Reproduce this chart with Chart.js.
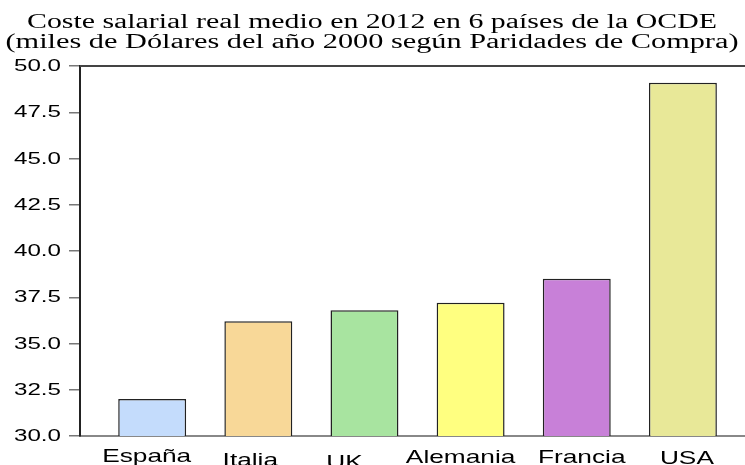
<!DOCTYPE html>
<html>
<head>
<meta charset="utf-8">
<style>
  html, body { margin: 0; padding: 0; background: #fff; }
  canvas { display: block; }
</style>
<script src="https://cdn.jsdelivr.net/npm/chart.js@4/dist/chart.umd.min.js"></script>
</head>
<body>
<canvas id="myChart" width="745" height="465"></canvas>
<script>
// Coste salarial real medio 2012 (miles de dólares del año 2000, PPA)
const paises = ['España', 'Italia', 'UK', 'Alemania', 'Francia', 'USA'];
const coste = [32.0, 36.2, 36.8, 37.2, 38.5, 49.1];
const colores = ['#C4DCFC', '#F8D898', '#A8E4A0', '#FFFF80', '#C880D8', '#E8E898'];
const yTicks = [30.0, 32.5, 35.0, 37.5, 40.0, 42.5, 45.0, 47.5, 50.0];
const titulo = [
    'Coste salarial real medio en 2012 en 6 países de la OCDE',
    '(miles de Dólares del año 2000 según Paridades de Compra)'
];

document.addEventListener('DOMContentLoaded', function () {
    // text is drawn horizontally widened, like the original graph export
    const STRETCH = 1.42;

    function wideText(ctx, text, x, y, align, sx) {
        ctx.save();
        ctx.translate(x, y);
        ctx.scale(sx || STRETCH, 1);
        ctx.textAlign = align;
        ctx.fillText(text, 0, 0);
        ctx.restore();
    }

    // labels under the bars sit at slightly uneven heights
    const labelDx = [-5.5, -8, -20, -10, 5, 4];
    const labelDrop = [25.5, 30, 32, 26.5, 27, 28];
    // title lines are spread to these widths
    const titleWidth = [690, 733];

    const textPlugin = {
        id: 'textPlugin',
        afterDraw(chart) {
            const ctx = chart.ctx;
            const area = chart.chartArea;
            const xs = chart.scales.x;
            const ys = chart.scales.y;

            // top frame line
            ctx.save();
            ctx.strokeStyle = '#444';
            ctx.lineWidth = 2;
            ctx.beginPath();
            ctx.moveTo(area.left, area.top);
            ctx.lineTo(area.right, area.top);
            ctx.stroke();
            ctx.restore();

            ctx.save();
            ctx.fillStyle = '#000';

            // title
            ctx.font = '20px "Liberation Serif", "Times New Roman", serif';
            ctx.textBaseline = 'alphabetic';
            titulo.forEach((t, i) => {
                const sx = titleWidth[i] / ctx.measureText(t).width;
                wideText(ctx, t, 372, 28 + i * 20, 'center', sx);
            });

            // y tick labels
            ctx.font = '17px "Liberation Sans", Arial, sans-serif';
            ctx.textBaseline = 'middle';
            yTicks.forEach(v => {
                wideText(ctx, v.toFixed(1), area.left - 19, ys.getPixelForValue(v) + 0.5, 'right');
            });

            // category labels
            ctx.font = '18.5px "Liberation Sans", Arial, sans-serif';
            ctx.textBaseline = 'alphabetic';
            paises.forEach((p, i) => {
                wideText(ctx, p, xs.getPixelForValue(i) + labelDx[i], area.bottom + labelDrop[i], 'center');
            });
            ctx.restore();
        }
    };

    const ctx1 = document.getElementById('myChart').getContext('2d');
    const chartData = {
        datasets: [
            {
                label: 'Coste salarial',
                data: coste.map((v, i) => ({ x: i, y: v })),
                backgroundColor: colores,
                borderColor: '#222',
                borderWidth: 1.5,
                barPercentage: 0.64,
                categoryPercentage: 1.0
            }
        ]
    };
    const config = {
        type: 'bar',
        data: chartData,
        options: {
            responsive: false,
            animation: false,
            layout: {
                padding: { top: 66, bottom: 29, left: 0, right: 0 }
            },
            plugins: {
                legend: { display: false },
                title: { display: false },
                tooltip: { enabled: false }
            },
            scales: {
                x: {
                    type: 'linear',
                    offset: false,
                    min: -0.68,
                    max: 5.585,
                    afterBuildTicks: function (scale) {
                        scale.ticks = paises.map((p, i) => ({ value: i }));
                    },
                    ticks: { display: false },
                    grid: { display: false },
                    border: { display: true, color: '#888', width: 2 },
                    afterFit: function (scale) { scale.height = 0; }
                },
                y: {
                    min: 30,
                    max: 50,
                    ticks: { display: false, stepSize: 2.5 },
                    grid: {
                        drawOnChartArea: false,
                        drawTicks: true,
                        tickLength: 11,
                        color: '#777',
                        lineWidth: 1.5
                    },
                    border: { display: true, color: '#222', width: 2 },
                    afterFit: function (scale) { scale.width = 80; }
                }
            }
        },
        plugins: [textPlugin]
    };
    const myChart = new Chart(ctx1, config);
});
</script>
</body>
</html>
